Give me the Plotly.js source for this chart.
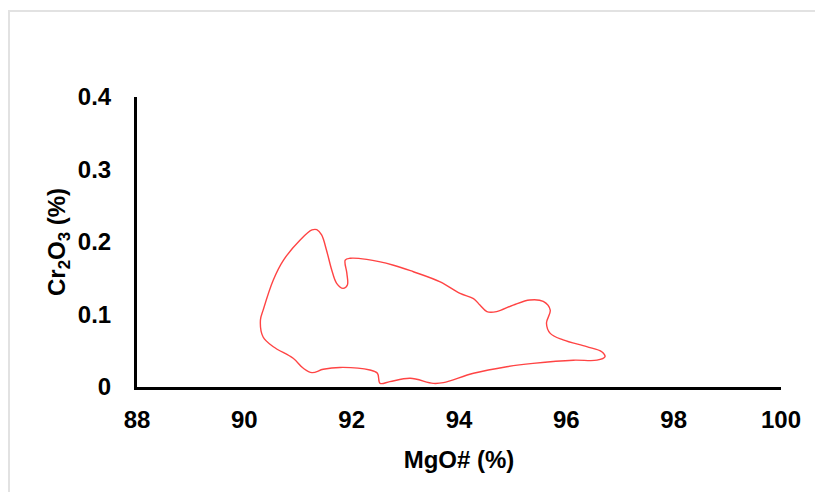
<!DOCTYPE html>
<html>
<head>
<meta charset="utf-8">
<script src="https://cdn.plot.ly/plotly-3.0.1.min.js"></script>
<style>
html,body{margin:0;padding:0;background:#fff;}
#frame{position:absolute;left:8px;top:10px;width:807px;height:482px;border-left:2px solid #e2e2e2;border-top:2px solid #e2e2e2;box-sizing:border-box;pointer-events:none;z-index:5;}
#chart{width:815px;height:492px;}
</style>
</head>
<body>
<div id="frame"></div>
<div id="chart"></div>
<script>
// Outline of the field (MgO# %, Cr2O3 %)
var mgo = [91.26, 91.35, 91.44, 91.53, 91.63, 91.72, 91.84, 91.92, 91.91, 91.88, 91.97, 92.28, 92.78, 93.15, 93.65, 94.02, 94.27, 94.39, 94.52, 94.70, 95.01, 95.32, 95.57, 95.70, 95.63, 95.70, 95.94, 96.38, 96.66, 96.72, 96.57, 96.13, 95.38, 94.89, 94.27, 93.71, 93.52, 93.09, 92.71, 92.53, 92.48, 92.34, 91.78, 91.47, 91.26, 91.10, 90.91, 90.54, 90.35, 90.30, 90.35, 90.54, 90.73, 91.04, 91.26];
var cr2o3 = [0.2166, 0.217, 0.2097, 0.189, 0.161, 0.143, 0.136, 0.1407, 0.157, 0.175, 0.1775, 0.176, 0.168, 0.159, 0.145, 0.129, 0.122, 0.113, 0.104, 0.104, 0.113, 0.120, 0.118, 0.106, 0.088, 0.074, 0.065, 0.0556, 0.0487, 0.0418, 0.037, 0.037, 0.0326, 0.028, 0.0189, 0.006, 0.005, 0.012, 0.0074, 0.005, 0.0189, 0.0234, 0.027, 0.0244, 0.0198, 0.0258, 0.0396, 0.0556, 0.069, 0.0924, 0.106, 0.1476, 0.175, 0.2028, 0.2166];
var xTicks = [88, 90, 92, 94, 96, 98, 100];
var yTicks = [0, 0.1, 0.2, 0.3, 0.4];
var yTickText = ['0', '0.1', '0.2', '0.3', '0.4'];

var trace = {
  x: mgo, y: cr2o3, type: 'scatter', mode: 'lines',
  line: {color: '#ff4444', width: 1.4, shape: 'spline', smoothing: 1},
  hoverinfo: 'skip'
};

var fam = 'Liberation Sans, Arial, sans-serif';

var layout = {
  width: 815, height: 492,
  margin: {l: 137, r: 34, t: 97, b: 105},
  paper_bgcolor: '#fff', plot_bgcolor: '#fff',
  showlegend: false,
  xaxis: {
    range: [88, 100], tickvals: xTicks, ticktext: xTicks.map(String),
    showgrid: false, zeroline: false,
    showline: true, linecolor: '#000', linewidth: 3,
    ticks: 'outside', ticklen: 9, tickcolor: 'rgba(0,0,0,0)',
    tickfont: {family: fam, size: 24, color: '#000', weight: 'bold'},
    title: {text: '<b>MgO# (%)</b>', font: {family: fam, size: 24, color: '#000'}, standoff: 20},
    fixedrange: true
  },
  yaxis: {
    range: [0, 0.4], tickvals: yTicks, ticktext: yTickText,
    showgrid: false, zeroline: false,
    showline: true, linecolor: '#000', linewidth: 3,
    ticks: 'outside', ticklen: 18, tickcolor: 'rgba(0,0,0,0)',
    tickfont: {family: fam, size: 24, color: '#000', weight: 'bold'},
    title: {text: '<b>Cr<sub>2</sub>O<sub>3</sub> (%)</b>', font: {family: fam, size: 24, color: '#000'}, standoff: 6},
    fixedrange: true
  }
};

Plotly.newPlot('chart', [trace], layout, {displayModeBar: false, staticPlot: true});
</script>
</body>
</html>
